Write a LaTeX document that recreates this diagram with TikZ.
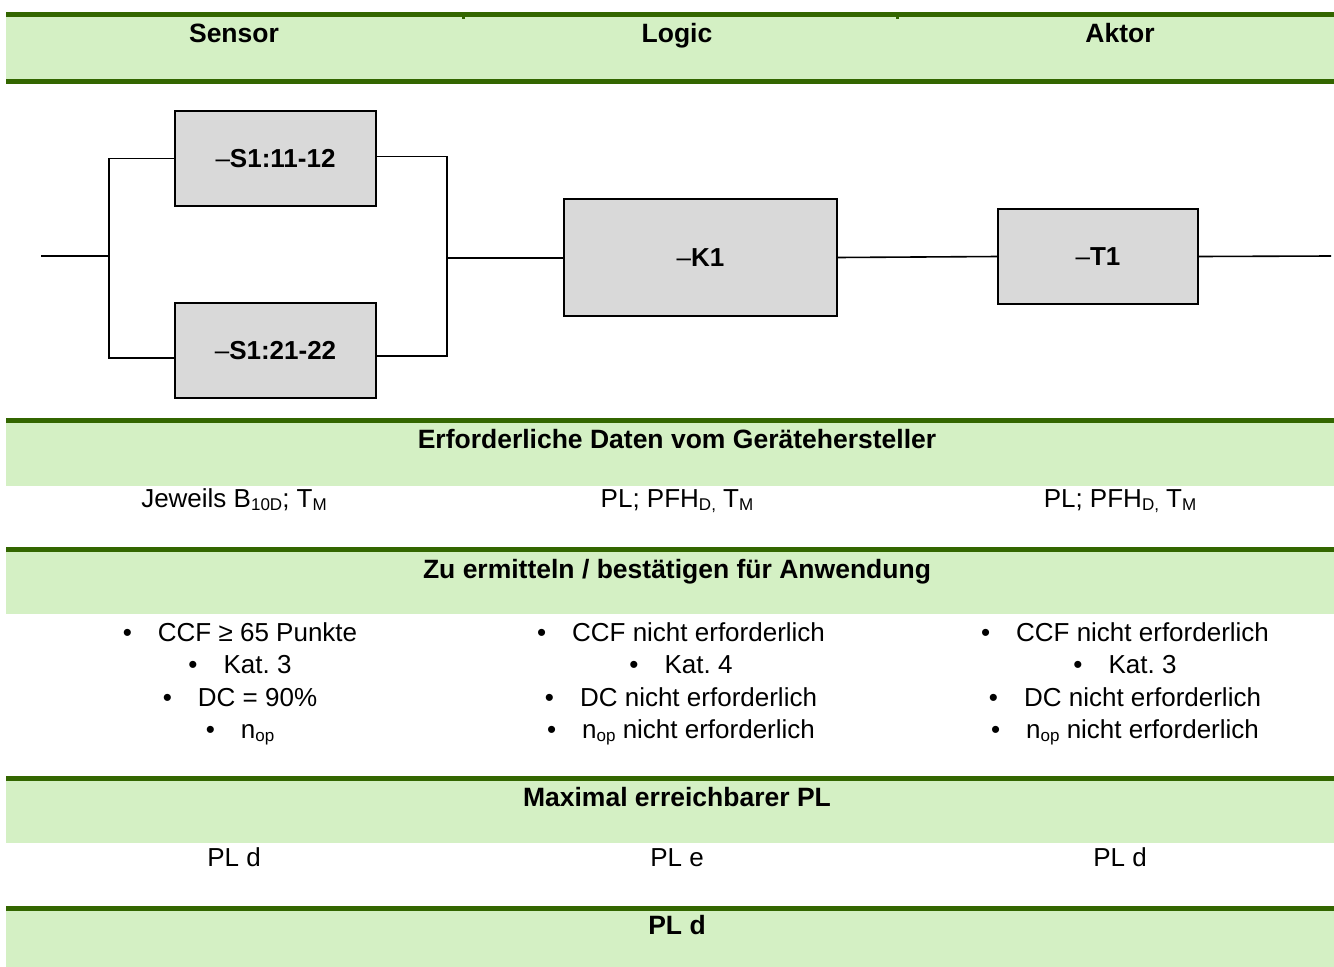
\documentclass[tikz,border=0pt]{standalone}
\usepackage{fontspec}
\setmainfont{Liberation Sans}
\usetikzlibrary{calc}
\frenchspacing
\definecolor{bandline}{RGB}{51,102,0}
\definecolor{bandfill}{RGB}{212,240,196}
\definecolor{blockfill}{RGB}{217,217,217}
% small lowered index text (B10D, TM, nop ...)
\newcommand\lowsub[1]{\raisebox{-3pt}{\fontsize{17}{17}\selectfont #1}}
% thin dash in front of the device tags
\newcommand\tagdash{{\mdseries –}}
% bullet with its gap
\newcommand\itemdot{•\hspace{26pt}}

\begin{document}
\begin{tikzpicture}[x=1pt,y=-1pt,
  every node/.style={font=\fontsize{26}{32.3}\selectfont, inner sep=0pt, outer sep=0pt},
  headtext/.style={font=\fontsize{26.5}{32.3}\selectfont\bfseries, anchor=base},
  celltext/.style={anchor=base},
  block/.style={draw=black, line width=2.2pt, fill=blockfill,
    font=\fontsize{26}{32.3}\selectfont\bfseries, inner sep=0pt},
  wire/.style={line width=1.6pt, draw=black},
]
\useasboundingbox (0,0) rectangle (1334,967);

% green title bands
\foreach \t/\b in {12/79, 418/486, 547/614, 776/843, 906/967} {
  \fill[bandfill] (6,\t) rectangle (1334,\b);
  \fill[bandline] (6,\t) rectangle (1334,\t+5);
}
\fill[bandline] (6,79) rectangle (1334,84);
\fill[bandline] (462,17) rectangle (465,19);
\fill[bandline] (896,17) rectangle (899,19);

% column titles
\node[headtext] (hsensor) at (234,42) {Sensor};
\node[headtext] (hlogic)  at (677,42) {Logic};
\node[headtext] (haktor)  at (1120,42) {Aktor};

% block diagram
\node[block, minimum width=201pt, minimum height=95pt] (s1) at (275.5,158.5) {\tagdash S1:11-12};
\node[block, minimum width=201pt, minimum height=95pt] (s2) at (275.5,350.5) {\tagdash S1:21-22};
\node[block, minimum width=273pt, minimum height=117pt] (k1) at (700.5,257.5) {\tagdash K1};
\node[block, minimum width=200pt, minimum height=95pt] (t1) at (1098,256.5) {\tagdash T1};

\coordinate (in)  at (41,256);
\coordinate (lj)  at (109,256);
\coordinate (rj)  at (447,258);
\coordinate (out) at (1331,256);

\draw[wire] (in) -- (lj);
\draw[wire] (s1.west) -| (lj) |- ([yshift=-7.5pt]s2.west);
\draw[wire] ([yshift=2pt]s1.east) -| (rj) |- ([yshift=-5.5pt]s2.east);
\draw[wire] (rj) -- (rj -| k1.west);
\draw[wire] (k1.east) -- (t1.west);
\draw[wire] (t1.east) -- (out);

% required manufacturer data
\node[headtext] (hdata) at (677,448) {Erforderliche Daten vom Gerätehersteller};
\node[celltext] (d1) at (234,507) {Jeweils B\lowsub{10D}; T\lowsub{M}};
\node[celltext] (d2) at (677,507) {PL; PFH\lowsub{D,} T\lowsub{M}};
\node[celltext] (d3) at (1120,507) {PL; PFH\lowsub{D,} T\lowsub{M}};

% values to determine
\node[headtext] (happ) at (677,578) {Zu ermitteln / bestätigen für Anwendung};
\node[celltext] (sa) at (240,641.5) {\itemdot CCF ≥ 65 Punkte};
\node[celltext] (sb) at (240,673.8) {\itemdot Kat. 3};
\node[celltext] (sc) at (240,706.1) {\itemdot DC = 90\%};
\node[celltext] (sd) at (240,738.4) {\itemdot n\lowsub{op}};
\node[celltext] (la) at (681,641.5) {\itemdot CCF nicht erforderlich};
\node[celltext] (lb) at (681,673.8) {\itemdot Kat. 4};
\node[celltext] (lc) at (681,706.1) {\itemdot DC nicht erforderlich};
\node[celltext] (ld) at (681,738.4) {\itemdot n\lowsub{op} nicht erforderlich};
\node[celltext] (aa) at (1125,641.5) {\itemdot CCF nicht erforderlich};
\node[celltext] (ab) at (1125,673.8) {\itemdot Kat. 3};
\node[celltext] (ac) at (1125,706.1) {\itemdot DC nicht erforderlich};
\node[celltext] (ad) at (1125,738.4) {\itemdot n\lowsub{op} nicht erforderlich};

% reachable performance level
\node[headtext] (hmax) at (677,806) {Maximal erreichbarer PL};
\node[celltext] (p1) at (234,866) {PL d};
\node[celltext] (p2) at (677,866) {PL e};
\node[celltext] (p3) at (1120,866) {PL d};

% resulting performance level
\node[headtext] (hres) at (677,934) {PL d};
\end{tikzpicture}
\end{document}
